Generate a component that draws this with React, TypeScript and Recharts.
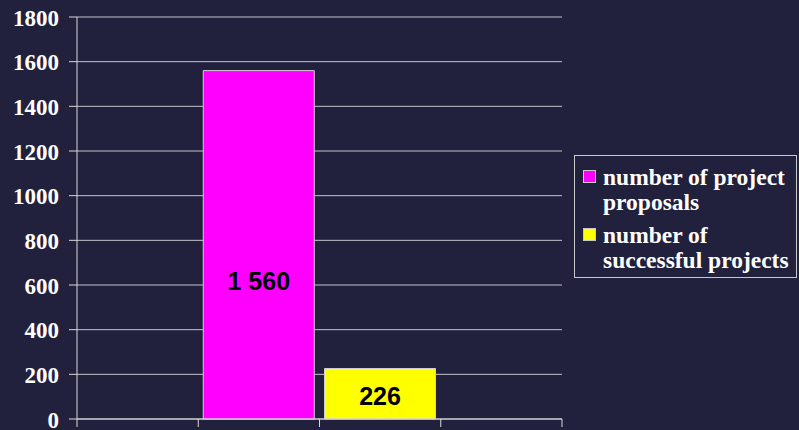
import { BarChart, Bar, XAxis, YAxis, CartesianGrid, Legend, LabelList } from 'recharts';

// four slots on the category axis, the two bars sit in the middle ones
const slots = ['left', 'proposals', 'successful', 'right'];
const proposals = [null, 1560, null, null];
const successful = [null, null, 226, null];
const seriesNames = ['number of project proposals', 'number of successful projects'];
const yTicks = [0, 200, 400, 600, 800, 1000, 1200, 1400, 1600, 1800];

const data = slots.map((slot, i) => ({
  slot,
  proposals: proposals[i],
  successful: successful[i],
}));

const BG = '#21213d';
const SERIF = '"Liberation Serif", "Times New Roman", serif';

const fmt = (v: number) => String(v).replace(/\B(?=(\d{3})+(?!\d))/g, ' ');

const barLabel = (shift: number) => (props: any) => {
  const { x, y, width, height, value } = props;
  if (value == null) return null;
  return (
    <text
      x={x + width / 2}
      y={y + height / 2 + shift}
      textAnchor="middle"
      dominantBaseline="central"
      fontFamily='"Liberation Sans", Arial, sans-serif'
      fontWeight="bold"
      fontSize={25}
      fill="#000"
    >
      {fmt(value)}
    </text>
  );
};

const YTick = (props: any) => {
  const { x, y, payload } = props;
  return (
    <text
      x={x}
      y={y + 1}
      textAnchor="end"
      dominantBaseline="central"
      fontFamily={SERIF}
      fontWeight="bold"
      fontSize={23}
      fill="#ffffff"
    >
      {payload.value}
    </text>
  );
};

// tick marks sit on the band edges, not the centres
const BoundaryTick = (props: any) => {
  const { x, y, width, visibleTicksCount, index } = props;
  const half = width / (2 * visibleTicksCount);
  const last = index === visibleTicksCount - 1;
  return (
    <g>
      <line x1={x - half} x2={x - half} y1={y} y2={y + 8} stroke="#d8d8d8" />
      {last && <line x1={x + half} x2={x + half} y1={y} y2={y + 8} stroke="#d8d8d8" />}
    </g>
  );
};

const renderLegend = ({ payload }: any) => (
  <div
    style={{
      border: '1px solid #c8c8c8',
      padding: '9px 2px 4px 8px',
      boxSizing: 'border-box',
      width: 223,
      fontFamily: SERIF,
      fontWeight: 'bold',
      fontSize: 23.5,
      lineHeight: '25px',
      color: '#fff',
      textAlign: 'left',
    }}
  >
    {(payload || []).map((e: any, i: number) => (
      <div key={i} style={{ display: 'flex', marginTop: i ? 8 : 0 }}>
        <span
          style={{
            width: 13,
            height: 13,
            background: e.color,
            border: '1px solid #c8c8c8',
            boxSizing: 'border-box',
            marginTop: 5,
            marginRight: 7,
            flexShrink: 0,
          }}
        />
        <span style={{ width: 190 }}>{e.value}</span>
      </div>
    ))}
  </div>
);

export default function App() {
  return (
    <div style={{ position: 'absolute', left: 0, top: 0, width: 799, height: 430, background: BG }}>
      <BarChart
        width={799}
        height={430}
        data={data}
        margin={{ top: 17, right: 237, bottom: 0, left: 0 }}
        barCategoryGap={5}
      >
        <CartesianGrid vertical={false} stroke="#c4c4cc" />
        <XAxis
          dataKey="slot"
          height={11}
          tickSize={0}
          tickMargin={0}
          tickLine={false}
          axisLine={{ stroke: '#d8d8d8' }}
          tick={<BoundaryTick />}
          interval={0}
        />
        <YAxis
          width={77}
          domain={[0, 1800]}
          ticks={yTicks}
          interval={0}
          tickSize={8}
          tickMargin={10}
          axisLine={{ stroke: '#d8d8d8' }}
          tickLine={{ stroke: '#d8d8d8' }}
          tick={<YTick />}
        />
        <YAxis
          yAxisId="frame"
          orientation="right"
          width={0}
          domain={[0, 1800]}
          tick={false}
          tickLine={false}
          axisLine={{ stroke: '#ffffff' }}
        />
        <Legend
          layout="horizontal"
          verticalAlign="middle"
          align="center"
          wrapperStyle={{ left: 574, top: 155, width: 223 }}
          content={renderLegend}
        />
        <Bar
          dataKey="proposals"
          name={seriesNames[0]}
          stackId="s"
          fill="#ff00ff"
          stroke="#d0d0d0"
          isAnimationActive={false}
        >
          <LabelList dataKey="proposals" content={barLabel(36)} />
        </Bar>
        <Bar
          dataKey="successful"
          name={seriesNames[1]}
          stackId="s"
          fill="#ffff00"
          stroke="#d0d0d0"
          isAnimationActive={false}
        >
          <LabelList dataKey="successful" content={barLabel(2)} />
        </Bar>
      </BarChart>
    </div>
  );
}
